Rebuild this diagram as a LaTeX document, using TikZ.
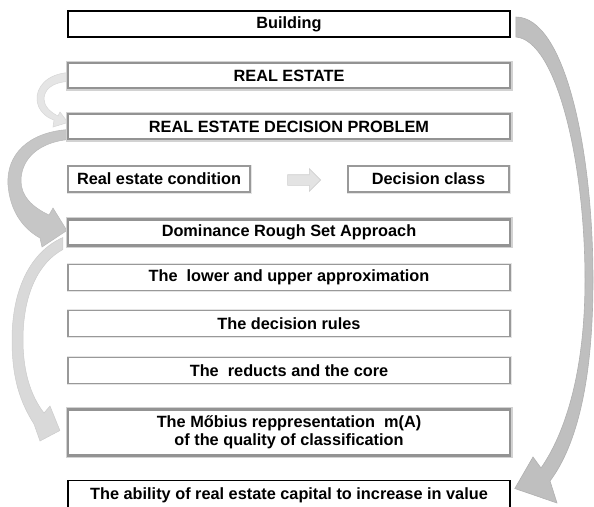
\documentclass[tikz,border=0pt]{standalone}
\usepackage{fontspec}
\setmainfont{Liberation Sans}
\usetikzlibrary{calc,shapes.arrows,backgrounds}

\tikzset{
  every node/.style={font=\fontsize{16.3}{19}\selectfont\bfseries, text=black},
  keybox/.style={draw=black, line width=1.6pt, fill=white, minimum width=442pt,
    minimum height=26pt, inner sep=0pt},
  softbox/.style={preaction={draw=gray!35, line width=5pt}, draw=gray!85,
    line width=2.2pt, fill=white, minimum width=442pt, minimum height=25pt, inner sep=0pt},
  plainbox/.style={preaction={draw=gray!20, line width=3pt}, draw=gray!80,
    line width=1.4pt, fill=white, minimum height=26pt, inner sep=0pt},
  widebox/.style={plainbox, minimum width=442pt},
  bigarrow/.style={fill=gray!50, draw=gray!62, line width=0.6pt},
  midarrow/.style={fill=gray!45, draw=gray!55, line width=0.5pt},
  lightarrow/.style={fill=gray!30, draw=gray!40, line width=0.5pt},
  faintarrow/.style={fill=gray!20, draw=gray!32, line width=0.5pt},
  blockarrow/.style={single arrow, fill=gray!22, draw=gray!38, line width=0.6pt,
    minimum height=33pt, inner sep=5pt, single arrow head extend=6pt},
}

\begin{document}
\begin{tikzpicture}[x=1pt, y=-1pt]
\useasboundingbox (0,0) rectangle (594,506);
\clip (0,0) rectangle (594,506);

% boxes of the chain
\node[keybox]   (building) at (289,24)    {Building};
\node[softbox]  (estate)   at (289,75.5)  {REAL ESTATE};
\node[softbox]  (problem)  at (289,126.5) {REAL ESTATE DECISION PROBLEM};
\node[plainbox, minimum width=182pt] (condition) at (159,179) {Real estate condition};
\node[plainbox, minimum width=161pt] (class)     at (428.5,179) {Decision class};
\node[blockarrow] (flow) at (301.5,180) {};
\node[softbox, minimum height=26pt] (drsa) at (289,232.5) {Dominance Rough Set Approach};
\node[widebox]  (approx)   at (289,277.5) {The~ lower and upper approximation};
\node[widebox]  (rules)    at (289,323.5) {The decision rules};
\node[widebox]  (reducts)  at (289,370.5) {The~ reducts and the core};
\node[softbox, minimum height=46pt, align=center] (mobius) at (289,432.5)
  {The Mőbius reppresentation~ m(A)\\[-1pt]of the quality of classification};
\node[keybox, minimum height=28pt] (ability) at (289,494.5) {};
\node[anchor=base] (abilitytext) at (289,499) {The ability of real estate capital to increase in value};

\begin{pgfonlayer}{background}
% curved arrow on the right: Building -> ability
\path[bigarrow]
  ($(building.east)+(5,-7)$) .. controls (565,17) and (593,150) .. (593,280)
  .. controls (593,380) and (577,445) .. (550,481)
  -- (557,503) -- ($(ability.east)+(4,-6)$) -- (533,457) -- (541,468)
  .. controls (566,432) and (585,370) .. (585,280)
  .. controls (585,160) and (556,40) .. ($(building.east)+(5,13)$) -- cycle;

% small curved arrow: REAL ESTATE -> decision problem
\path[faintarrow]
  ($(estate.west)+(2,-3)$) .. controls (46,74) and (36,88) .. (37,100)
  .. controls (38,110) and (45,117) .. (54,120)
  -- (53,127) -- ($(problem.west)+(1,-4)$) -- (60,112) -- (58,116)
  .. controls (50,112) and (44,106) .. (44,99)
  .. controls (44,90) and (52,82) .. ($(estate.west)+(2,6)$) -- cycle;

% curved arrow: decision problem -> DRSA
\path[midarrow]
  ($(problem.west)+(2,3)$) .. controls (28,132) and (6,155) .. (8,185)
  .. controls (10,210) and (22,228) .. (40,238)
  -- (42,247) -- ($(drsa.west)+(0,-2)$) -- (53,208) -- (49,215)
  .. controls (32,207) and (21,196) .. (21,181)
  .. controls (21,158) and (40,142) .. ($(problem.west)+(2,13)$) -- cycle;

% curved arrow: DRSA -> Moebius representation
\path[lightarrow]
  ($(drsa.west)+(-4,5)$) .. controls (30,252) and (12,290) .. (12,340)
  .. controls (12,378) and (20,402) .. (34,424)
  -- (40,441) -- ($(mobius.west)+(-7,-2)$) -- (50,406) -- (44,413)
  .. controls (30,395) and (23,370) .. (23,340)
  .. controls (23,295) and (38,263) .. ($(drsa.west)+(-4,17)$) -- cycle;
\end{pgfonlayer}
\end{tikzpicture}
\end{document}
